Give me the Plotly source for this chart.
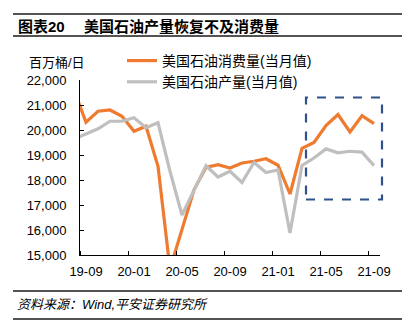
import plotly.graph_objects as go

months = ["19-08", "19-09", "19-10", "19-11", "19-12", "20-01", "20-02", "20-03",
          "20-04", "20-05", "20-06", "20-07", "20-08", "20-09", "20-10", "20-11",
          "20-12", "21-01", "21-02", "21-03", "21-04", "21-05", "21-06", "21-07",
          "21-08", "21-09"]
consumption = [21600, 20310, 20750, 20800, 20550, 19950, 20150, 18550, 14440, 16050,
               17610, 18500, 18610, 18480, 18680, 18750, 18850, 18590, 17440, 19270,
               19500, 20180, 20620, 19920, 20570, 20255]
production = [19640, 19860, 20050, 20350, 20350, 20490, 20090, 20290, 18350, 16600,
              17600, 18570, 18120, 18350, 17900, 18700, 18300, 18400, 15880, 18580,
              18880, 19245, 19085, 19150, 19115, 18575]
label_months = ["19-09", "20-01", "20-05", "20-09", "21-01", "21-05", "21-09"]
y_ticks = [15000, 16000, 17000, 18000, 19000, 20000, 21000, 22000]

W, H = 417, 332
L, R, T, B = 80, 380, 80, 255


def px_x(p):
    return (p - L) / (R - L)


def px_y(p):
    return (B - p) / (B - T)


xi = list(range(len(months)))
label_idx = [months.index(m) for m in label_months]

FONT = "Liberation Sans, Arial, Noto Sans CJK SC, sans-serif"

fig = go.Figure()
fig.add_trace(go.Scatter(x=xi, y=consumption, mode="lines", name="美国石油消费量(当月值)",
                         line=dict(color="#EE7B30", width=3.2)))
fig.add_trace(go.Scatter(x=xi, y=production, mode="lines", name="美国石油产量(当月值)",
                         line=dict(color="#BFBFBF", width=3.2)))

fig.update_layout(
    width=W, height=H,
    margin=dict(l=L, r=W - R, t=T, b=H - B),
    paper_bgcolor="white", plot_bgcolor="white",
    font=dict(family=FONT, size=13, color="#000000"),
    showlegend=True,
    legend=dict(x=px_x(122), y=px_y(45), xanchor="left", yanchor="top",
                bgcolor="rgba(0,0,0,0)", font=dict(size=14), tracegroupgap=0,
                itemwidth=30),
    xaxis=dict(range=[0.5, 25.5], tickmode="array", tickvals=label_idx,
               ticktext=label_months, ticks="", showgrid=False, zeroline=False,
               showline=True, linecolor="#000000", linewidth=1,
               ticklabelstandoff=4,
               minor=dict(tickmode="array",
                          tickvals=[i - 0.5 for i in label_idx],
                          ticks="inside", ticklen=4, tickcolor="#000000",
                          tickwidth=1, showgrid=False)),
    yaxis=dict(range=[15000, 22000], tickmode="array", tickvals=y_ticks,
               tickformat=",", ticks="inside", ticklen=4, tickcolor="#000000",
               showgrid=False, zeroline=False, showline=True,
               linecolor="#000000", linewidth=1, ticklabelstandoff=10),
)

# dashed highlight box (decoration, placed in page pixels)
fig.add_shape(type="rect", xref="paper", yref="paper",
              x0=px_x(306), x1=px_x(382), y0=px_y(199.5), y1=px_y(97.5),
              line=dict(color="#2E5289", width=2.2, dash="dash"), layer="above")

# header / footer rules
for yy in [14, 36, 291, 319]:
    fig.add_shape(type="line", xref="paper", yref="paper",
                  x0=px_x(13), x1=px_x(402), y0=px_y(yy), y1=px_y(yy),
                  line=dict(color="#1a1a1a", width=1.3))

fig.add_annotation(xref="paper", yref="paper", x=px_x(16), y=px_y(26),
                   xanchor="left", yanchor="middle", showarrow=False,
                   text="<b>图表20</b>", font=dict(size=15, family=FONT))
fig.add_annotation(xref="paper", yref="paper", x=px_x(82), y=px_y(26),
                   xanchor="left", yanchor="middle", showarrow=False,
                   text="<b>美国石油产量恢复不及消费量</b>", font=dict(size=15, family=FONT))
fig.add_annotation(xref="paper", yref="paper", x=px_x(27), y=px_y(62),
                   xanchor="left", yanchor="middle", showarrow=False,
                   text="百万桶/日", font=dict(size=13, family=FONT))
fig.add_annotation(xref="paper", yref="paper", x=px_x(15), y=px_y(304),
                   xanchor="left", yanchor="middle", showarrow=False,
                   text="<i>资料来源：Wind,平安证券研究所</i>", font=dict(size=13, family=FONT))

fig.write_html("out.html")
